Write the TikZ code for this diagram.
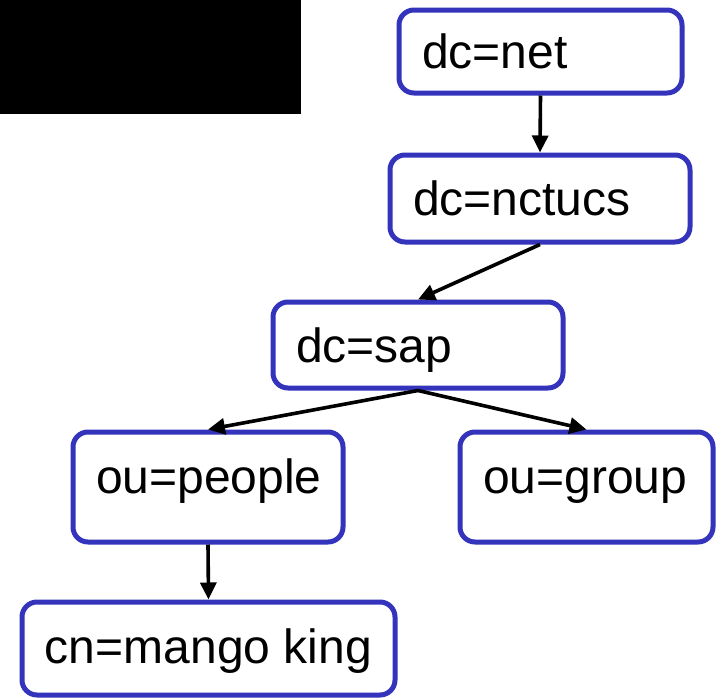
\documentclass[tikz,border=0pt]{standalone}
\usepackage{fontspec}
\setmainfont{Liberation Sans}
\usetikzlibrary{arrows.meta}
\definecolor{boxblue}{RGB}{51,51,187}
% label set flush left in a fixed-width slot, so the box keeps its size
\newcommand{\slot}[2]{\makebox[#1][l]{#2}}
\tikzset{
  x=1pt, y=-1pt,
  entry/.style={draw=boxblue, line width=5pt, rounded corners=15pt, fill=white,
    font=\fontsize{48}{57}\selectfont, inner xsep=23pt, inner ysep=0pt,
    text height=34pt, text depth=0pt},
  link/.style={line width=3.6pt, -{Triangle[length=17pt,width=16pt]}}
}
\begin{document}
\begin{tikzpicture}
\useasboundingbox (0,0) rectangle (718,697);
\fill[black] (0,0) rectangle (301,114);

\node[entry, minimum width=283pt, minimum height=83pt] (net) at (540.5,51.5) {\slot{237pt}{dc=net}};
\node[entry, minimum width=300pt, minimum height=87pt] (nctucs) at (540,198.5) {\slot{254pt}{dc=nctucs}};
\node[entry, minimum width=290pt, minimum height=86pt] (sap) at (418,345) {\slot{244pt}{dc=sap}};
\node[entry, minimum width=270pt, minimum height=110pt, text depth=22pt] (people) at (208,487) {\slot{224pt}{ou=people}};
\node[entry, minimum width=253pt, minimum height=110pt, text depth=22pt] (group) at (586.5,487) {\slot{207pt}{ou=group}};
\node[entry, minimum width=373pt, minimum height=93pt, text depth=5pt] (cn) at (208.5,648.5) {\slot{327pt}{cn=mango king}};

\draw[link] (net.south) -- (nctucs.north);
\draw[link] (nctucs.south) -- (sap.north);
\draw[link] (sap.south) -- (people.north);
\draw[link] (sap.south) -- (group.north);
\draw[link] (people.south) -- (cn.north);
\end{tikzpicture}
\end{document}
